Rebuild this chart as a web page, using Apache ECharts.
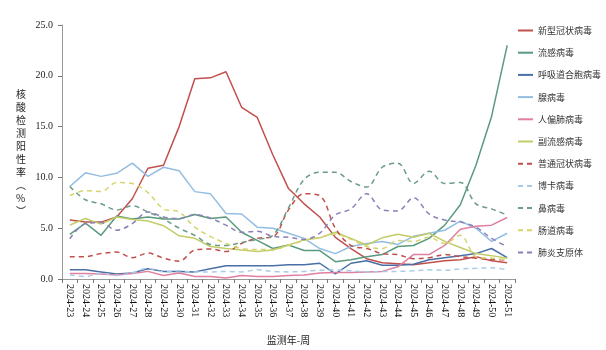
<!DOCTYPE html>
<html>
<head>
<meta charset="utf-8">
<script src="https://cdn.jsdelivr.net/npm/echarts@6/dist/echarts.min.js"></script>
<style>html,body{margin:0;padding:0;background:#fff}#c{width:606px;height:350px}</style>
</head>
<body>
<div id="c"></div>
<script>
const weeks = ['2024-23','2024-24','2024-25','2024-26','2024-27','2024-28','2024-29','2024-30','2024-31','2024-32','2024-33','2024-34','2024-35','2024-36','2024-37','2024-38','2024-39','2024-40','2024-41','2024-42','2024-43','2024-44','2024-45','2024-46','2024-47','2024-48','2024-49','2024-50','2024-51'];
const yTicks = [0, 5, 10, 15, 20, 25];

const sarsCov2   = [5.8,5.6,5.6,6.1,7.9,10.9,11.2,15.0,19.7,19.8,20.4,16.9,15.9,12.2,8.9,7.4,6.1,4.1,3.0,2.0,1.6,1.5,1.4,1.6,1.8,1.9,2.2,1.8,1.6];
const influenza  = [4.4,5.5,4.3,6.2,5.9,6.1,5.9,5.9,6.35,5.95,6.1,4.6,3.8,3.0,3.35,2.8,2.8,1.7,1.9,2.2,2.4,3.2,3.3,4.0,5.3,7.3,11.2,16.0,23.0];
const rsv        = [0.9,0.9,0.7,0.5,0.6,1.0,0.75,0.75,0.7,1.0,1.3,1.3,1.3,1.3,1.4,1.4,1.55,0.5,1.55,1.8,1.35,1.35,1.45,1.9,2.1,2.3,2.5,3.0,2.1];
const adenovirus = [9.1,10.45,10.1,10.4,11.4,10.1,11.0,10.65,8.6,8.4,6.45,6.4,5.1,5.0,4.5,4.0,3.0,2.5,3.2,3.5,3.7,3.4,4.2,4.5,4.8,5.7,5.0,3.7,4.5];
const hmpv       = [0.55,0.55,0.5,0.4,0.55,0.75,0.35,0.6,0.25,0.25,0.1,0.35,0.25,0.25,0.35,0.4,0.6,0.65,0.65,0.7,0.75,1.2,2.4,2.4,3.3,4.9,5.2,5.3,6.05];
const piv        = [5.3,5.95,5.4,6.1,5.85,5.7,5.25,4.25,4.0,3.2,3.0,2.85,2.7,2.85,3.35,3.85,4.05,4.6,4.0,3.35,4.05,4.4,4.1,4.5,3.7,3.1,2.5,2.3,2.05];
const hcov       = [2.2,2.2,2.5,2.65,2.1,2.55,2.05,1.75,2.85,2.95,2.7,3.5,4.0,4.15,6.8,8.4,8.2,5.0,3.3,3.0,2.5,2.4,2.0,2.1,2.4,2.2,2.05,1.9,1.9];
const bocavirus  = [0.4,0.25,0.55,0.35,0.6,1.05,0.7,0.8,0.7,0.7,0.75,0.7,0.9,0.75,0.7,0.75,0.85,0.9,0.8,0.7,0.75,0.75,0.8,0.9,0.85,1.0,1.05,1.1,0.9];
const rhinovirus = [9.1,7.8,7.4,6.8,7.2,6.6,5.9,5.0,4.3,3.4,3.3,3.6,3.9,4.3,7.0,9.8,10.5,10.5,9.6,9.05,11.0,11.4,9.4,10.6,9.4,9.5,7.4,6.9,6.3];
const enterovirus= [8.2,8.7,8.6,9.5,9.4,8.5,6.9,6.6,5.1,4.2,3.5,3.0,2.9,2.9,3.3,3.8,4.1,4.4,3.9,3.2,3.0,3.8,3.7,4.1,3.5,4.3,2.2,2.05,1.9];
const mycoplasma = [3.95,5.45,5.55,4.8,5.45,6.6,6.1,5.95,6.35,6.0,5.3,4.6,4.7,4.2,4.1,3.9,4.5,6.3,6.9,8.4,6.8,6.7,8.0,6.4,5.8,5.6,5.1,4.0,3.2];

const seriesDefs = [
  ['新型冠状病毒', sarsCov2, '#c0504d', 'solid'],
  ['流感病毒', influenza, '#5a9a7e', 'solid'],
  ['呼吸道合胞病毒', rsv, '#4a6fa5', 'solid'],
  ['腺病毒', adenovirus, '#93bde2', 'solid'],
  ['人偏肺病毒', hmpv, '#e07fa0', 'solid'],
  ['副流感病毒', piv, '#c3cc69', 'solid'],
  ['普通冠状病毒', hcov, '#c0504d', 'dashed'],
  ['博卡病毒', bocavirus, '#a9cbe8', 'dashed'],
  ['鼻病毒', rhinovirus, '#6a9c86', 'dashed'],
  ['肠道病毒', enterovirus, '#d5d46c', 'dashed'],
  ['肺炎支原体', mycoplasma, '#8b80b8', 'dashed']
];

const chart = echarts.init(document.getElementById('c'), null, {renderer: 'canvas'});
const cjk = '"Noto Sans CJK SC", sans-serif';
const serif = '"Liberation Serif", "DejaVu Serif", serif';

chart.setOption({
  animation: false,
  backgroundColor: '#ffffff',
  grid: {left: 62, top: 25, right: 91, bottom: 69, containLabel: false},
  legend: {
    orient: 'vertical', left: 512, top: 21,
    itemWidth: 15, itemHeight: 10, itemGap: 13.2,
    itemStyle: {opacity: 0},
    textStyle: {fontFamily: cjk, fontSize: 9, color: '#333'},
    data: seriesDefs.map(d => d[0])
  },
  xAxis: {
    type: 'category', data: weeks, boundaryGap: true,
    name: '监测年-周', nameLocation: 'middle', nameGap: 56,
    nameTextStyle: {fontFamily: cjk, fontSize: 10, color: '#222'},
    axisLine: {lineStyle: {color: '#999'}},
    axisTick: {show: true, alignWithLabel: false, length: 4, lineStyle: {color: '#777'}},
    axisLabel: {rotate: -90, interval: 0, fontFamily: serif, fontSize: 10, color: '#111', margin: 5}
  },
  yAxis: {
    type: 'value', min: yTicks[0], max: yTicks[yTicks.length - 1], interval: 5,
    axisLine: {show: true, lineStyle: {color: '#999'}},
    axisTick: {show: true, length: 4, lineStyle: {color: '#777'}},
    splitLine: {show: false},
    axisLabel: {fontFamily: serif, fontSize: 10, color: '#222', margin: 9, formatter: v => v.toFixed(1)}
  },
  graphic: [{
    type: 'text', left: 16, top: 88,
    style: {text: '核\n酸\n检\n测\n阳\n性\n率\n︵\n%\n︶', font: '10px ' + cjk, fill: '#222', lineHeight: 13, align: 'center'}
  }],
  series: seriesDefs.map(d => ({
    name: d[0], type: 'line', data: d[1], symbol: 'none',
    smooth: d[3] === 'dashed' ? 0.35 : false,
    lineStyle: {color: d[2], width: 1.5, type: d[3] === 'dashed' ? [5, 4] : 'solid'},
    itemStyle: {color: d[2]}
  }))
});
</script>
</body>
</html>
